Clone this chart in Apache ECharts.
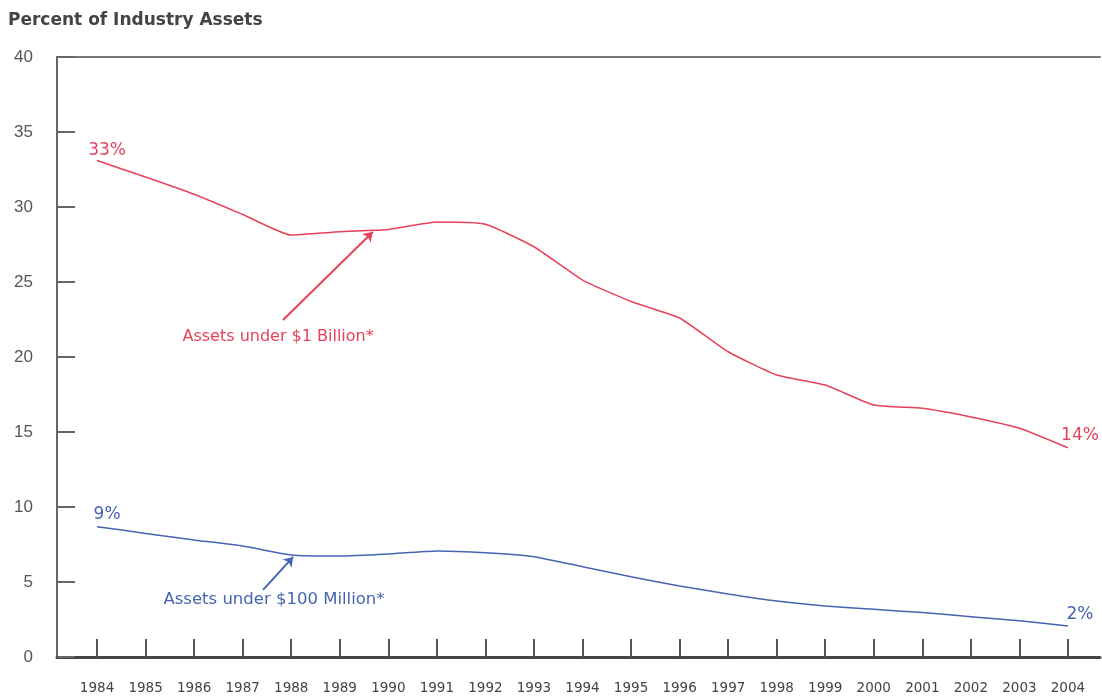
<!DOCTYPE html>
<html>
<head>
<meta charset="utf-8">
<script src="https://cdn.jsdelivr.net/npm/echarts@6/dist/echarts.min.js"></script>
<style>html,body{margin:0;padding:0;background:#fff}#c{width:1102px;height:698px}</style>
</head>
<body>
<div id="c"></div>
<script>
const years = [1984,1985,1986,1987,1988,1989,1990,1991,1992,1993,1994,1995,1996,1997,1998,1999,2000,2001,2002,2003,2004];
const under1B = [33.1,32.0,30.85,29.5,28.13,28.35,28.5,29.0,28.85,27.35,25.13,23.7,22.6,20.35,18.8,18.13,16.8,16.58,16.0,15.25,13.95];
const under100M = [8.69,8.24,7.8,7.4,6.8,6.73,6.87,7.07,6.95,6.69,6.02,5.35,4.73,4.2,3.73,3.4,3.18,2.96,2.69,2.42,2.07];
const yTicks = [0,5,10,15,20,25,30,35,40];
const redLabels = ['33%','14%'];
const blueLabels = ['9%','2%'];
const redNote = 'Assets under $1 Billion*';
const blueNote = 'Assets under $100 Million*';

const RED = '#e6425a', BLUE = '#4564b2';
const FONT = '"Liberation Sans", Arial, sans-serif';
const WIDE = '"DejaVu Sans", Verdana, sans-serif';

function buildData(vals, labels, color, offs) {
  return years.map((y, i) => {
    const item = { value: [y, vals[i]] };
    if (i === 0 || i === years.length - 1) {
      item.label = {
        show: true,
        formatter: i === 0 ? labels[0] : labels[1],
        position: 'top',
        offset: i === 0 ? offs[0] : offs[1],
        color: color, fontSize: 17, fontFamily: WIDE
      };
    }
    return item;
  });
}

const chart = echarts.init(document.getElementById('c'), null, { renderer: 'canvas' });
chart.setOption({
  animation: false,
  backgroundColor: '#fff',
  title: {
    text: 'Percent of Industry Assets',
    left: 3, top: 7,
    textStyle: { fontSize: 17, fontWeight: 'bold', color: '#444', fontFamily: WIDE }
  },
  grid: { left: 57, right: 2, top: 57, bottom: 41 },
  xAxis: [{
    type: 'value', min: 1983.175, max: 2004.66,
    axisLine: { show: true, lineStyle: { color: '#444', width: 3 } },
    axisTick: { show: true, inside: true, length: 18, customValues: years, lineStyle: { color: '#555', width: 2 } },
    axisLabel: { show: true, customValues: years, formatter: v => String(v), margin: 24, fontSize: 13.5, color: '#444', fontFamily: WIDE },
    splitLine: { show: false }
  }, {
    type: 'value', min: 1983.175, max: 2004.66, position: 'top',
    axisLine: { show: true, lineStyle: { color: '#777', width: 2 } },
    axisTick: { show: false }, axisLabel: { show: false }, splitLine: { show: false }
  }],
  yAxis: {
    type: 'value', min: 0, max: 40, interval: 5,
    axisLine: { show: true, lineStyle: { color: '#666', width: 2 } },
    axisTick: { show: true, inside: true, length: 18, lineStyle: { color: '#666', width: 2 } },
    axisLabel: { margin: 24, fontSize: 17, color: '#555', fontFamily: FONT, formatter: v => yTicks.includes(v) ? String(v) : '' },
    splitLine: { show: false }
  },
  series: [{
    type: 'line', name: redNote, smooth: 0.15, symbol: 'circle', symbolSize: 0, showSymbol: true,
    lineStyle: { color: RED, width: 1.5 }, itemStyle: { color: RED },
    data: buildData(under1B, redLabels, RED, [[10, 4], [12, 1]]),
    markLine: {
      silent: true, symbol: ['none', 'arrow'], symbolSize: 9,
      lineStyle: { color: RED, width: 2, type: 'solid' }, label: { show: false },
      data: [[{ coord: [1987.83, 22.47] }, { coord: [1989.68, 28.33] }]]
    },
    markPoint: {
      silent: true, symbol: 'circle', symbolSize: 0,
      label: { show: true, position: 'inside', color: RED, fontSize: 16, fontFamily: WIDE, formatter: p => p.name },
      data: [{ name: redNote, coord: [1987.73, 21.33] }]
    }
  }, {
    type: 'line', name: blueNote, smooth: 0.15, symbol: 'circle', symbolSize: 0, showSymbol: true,
    lineStyle: { color: BLUE, width: 1.5 }, itemStyle: { color: BLUE },
    data: buildData(under100M, blueLabels, BLUE, [[10, 1], [12, 2]]),
    markLine: {
      silent: true, symbol: ['none', 'arrow'], symbolSize: 9,
      lineStyle: { color: BLUE, width: 2, type: 'solid' }, label: { show: false },
      data: [[{ coord: [1987.42, 4.47] }, { coord: [1988.04, 6.67] }]]
    },
    markPoint: {
      silent: true, symbol: 'circle', symbolSize: 0,
      label: { show: true, position: 'inside', color: BLUE, fontSize: 16.5, fontFamily: WIDE, formatter: p => p.name },
      data: [{ name: blueNote, coord: [1987.645, 3.8] }]
    }
  }]
});
</script>
</body>
</html>
